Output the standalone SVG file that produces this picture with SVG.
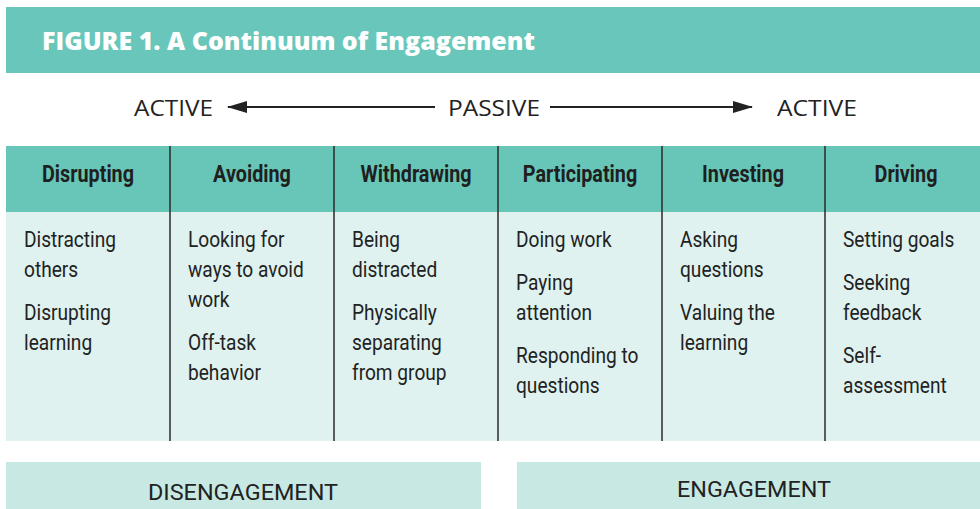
<svg xmlns="http://www.w3.org/2000/svg" width="980" height="509" viewBox="0 0 980 509">
<defs>
<style>
.hdr{fill:#67c6b8}
.body{fill:#dff2ef}
.band{fill:#c8e9e3}
.div{stroke:#2a2a2a;stroke-width:1.5}
.h{font-family:Roboto,"Liberation Sans",sans-serif;font-weight:700;font-size:23px;fill:#1f1f1f;text-anchor:middle}
.t{font-family:Roboto,"Liberation Sans",sans-serif;font-size:22.5px;fill:#222}
.dir{font-family:"Open Sans","Liberation Sans",sans-serif;font-size:22px;fill:#222}
.band-t{font-family:Roboto,"Liberation Sans",sans-serif;font-size:22px;fill:#222;text-anchor:middle}
.arrow{stroke:#222;stroke-width:1.8;fill:none}
</style>
<marker id="ah" viewBox="0 0 20 12" refX="19" refY="6" markerWidth="20" markerHeight="12" markerUnits="userSpaceOnUse" orient="auto">
<path d="M0,0 L20,6 L0,12 Z" fill="#222"/>
</marker>
</defs>
<rect width="980" height="509" fill="#ffffff"/>

<g id="title">
<rect x="6" y="7" width="974" height="66" fill="#68c7ba"/>
<text x="42" y="50" font-family="'Open Sans','Liberation Sans',sans-serif" font-weight="800" font-size="25" fill="#ffffff" textLength="493" lengthAdjust="spacingAndGlyphs">FIGURE 1. A Continuum of Engagement</text>
</g>

<g id="axis-labels">
<text class="dir" x="134" y="116" textLength="79" lengthAdjust="spacingAndGlyphs">ACTIVE</text>
<text class="dir" x="448" y="116" textLength="92" lengthAdjust="spacingAndGlyphs">PASSIVE</text>
<text class="dir" x="777" y="116" textLength="80" lengthAdjust="spacingAndGlyphs">ACTIVE</text>
</g>

<g id="connectors">
<line class="arrow" x1="435" y1="107" x2="228" y2="107" marker-end="url(#ah)"/>
<line class="arrow" x1="550" y1="107" x2="752" y2="107" marker-end="url(#ah)"/>
</g>

<g id="table">
<rect class="hdr" x="6" y="146" width="974" height="66"/>
<rect class="body" x="6" y="212" width="974" height="229"/>
<line class="div" x1="170" y1="146" x2="170" y2="441"/>
<line class="div" x1="334" y1="146" x2="334" y2="441"/>
<line class="div" x1="498" y1="146" x2="498" y2="441"/>
<line class="div" x1="662" y1="146" x2="662" y2="441"/>
<line class="div" x1="825" y1="146" x2="825" y2="441"/>
</g>

<g id="col-disrupting">
<g transform="translate(88 0) scale(0.86 1)"><text class="h" x="0" y="182">Disrupting</text></g>
<g transform="translate(24 0) scale(0.85 1)"><text class="t">
<tspan x="0" y="247">Distracting</tspan><tspan x="0" y="277">others</tspan>
<tspan x="0" y="320">Disrupting</tspan><tspan x="0" y="350">learning</tspan></text></g>
</g>

<g id="col-avoiding">
<g transform="translate(252 0) scale(0.86 1)"><text class="h" x="0" y="182">Avoiding</text></g>
<g transform="translate(188 0) scale(0.85 1)"><text class="t">
<tspan x="0" y="247">Looking for</tspan><tspan x="0" y="277">ways to avoid</tspan><tspan x="0" y="307">work</tspan>
<tspan x="0" y="350">Off-task</tspan><tspan x="0" y="380">behavior</tspan></text></g>
</g>

<g id="col-withdrawing">
<g transform="translate(416 0) scale(0.86 1)"><text class="h" x="0" y="182">Withdrawing</text></g>
<g transform="translate(352 0) scale(0.85 1)"><text class="t">
<tspan x="0" y="247">Being</tspan><tspan x="0" y="277">distracted</tspan>
<tspan x="0" y="320">Physically</tspan><tspan x="0" y="350">separating</tspan><tspan x="0" y="380">from group</tspan></text></g>
</g>

<g id="col-participating">
<g transform="translate(580 0) scale(0.86 1)"><text class="h" x="0" y="182">Participating</text></g>
<g transform="translate(516 0) scale(0.85 1)"><text class="t">
<tspan x="0" y="247">Doing work</tspan>
<tspan x="0" y="290">Paying</tspan><tspan x="0" y="320">attention</tspan>
<tspan x="0" y="363">Responding to</tspan><tspan x="0" y="393">questions</tspan></text></g>
</g>

<g id="col-investing">
<g transform="translate(743 0) scale(0.86 1)"><text class="h" x="0" y="182">Investing</text></g>
<g transform="translate(680 0) scale(0.85 1)"><text class="t">
<tspan x="0" y="247">Asking</tspan><tspan x="0" y="277">questions</tspan>
<tspan x="0" y="320">Valuing the</tspan><tspan x="0" y="350">learning</tspan></text></g>
</g>

<g id="col-driving">
<g transform="translate(906 0) scale(0.86 1)"><text class="h" x="0" y="182">Driving</text></g>
<g transform="translate(843 0) scale(0.85 1)"><text class="t">
<tspan x="0" y="247">Setting goals</tspan>
<tspan x="0" y="290">Seeking</tspan><tspan x="0" y="320">feedback</tspan>
<tspan x="0" y="363">Self-</tspan><tspan x="0" y="393">assessment</tspan></text></g>
</g>

<g id="disengagement">
<rect class="band" x="6" y="462" width="475" height="47"/>
<text class="band-t" x="243" y="500" textLength="190" lengthAdjust="spacingAndGlyphs">DISENGAGEMENT</text>
</g>

<g id="engagement">
<rect class="band" x="517" y="462" width="463" height="47"/>
<text class="band-t" x="754" y="497" textLength="154" lengthAdjust="spacingAndGlyphs">ENGAGEMENT</text>
</g>
</svg>
